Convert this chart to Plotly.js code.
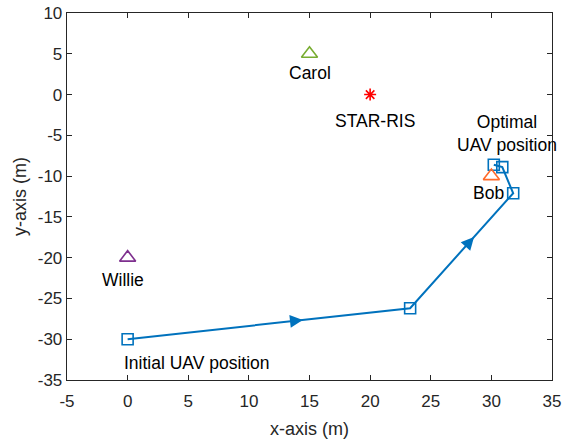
<!DOCTYPE html>
<html>
<head>
<meta charset="utf-8">
<script src="https://cdn.plot.ly/plotly-3.0.1.min.js"></script>
<style>html,body{margin:0;padding:0;background:#fff;}#chart{width:569px;height:443px;}</style>
</head>
<body>
<div id="chart"></div>
<script>
// UAV trajectory
const pathX = [0, 23.3, 31.8, 30.9, 30.2];
const pathY = [-30, -26.2, -12.1, -8.9, -8.6];
// Nodes
const nodeNames = ["Carol", "Bob", "Willie"];
const nodeX = [15, 30, 0];
const nodeY = [5, -10, -20];
const risX = [20];
const risY = [0];
// Tick labels
const xTicks = [-5, 0, 5, 10, 15, 20, 25, 30, 35];
const yTicks = [10, 5, 0, -5, -10, -15, -20, -25, -30, -35];

const blue = '#0072BD';
const nodeColors = ['#77AC30', '#FF6A2A', '#7E2F8E'];
const font = 'Liberation Sans, Arial, Helvetica, sans-serif';

const traces = [
  {x: pathX, y: pathY, mode: 'lines+markers', type: 'scatter',
   line: {color: blue, width: 2},
   marker: {symbol: 'square-open', size: 11, color: blue, line: {width: 1.6, color: blue}},
   hoverinfo: 'skip'},
  {x: risX, y: risY, mode: 'markers', type: 'scatter',
   marker: {symbol: 'asterisk-open', size: 10, color: '#FF0000', line: {width: 1.6, color: '#FF0000'}}},
  {x: nodeX, y: nodeY, mode: 'markers', type: 'scatter',
   marker: {symbol: 'triangle-up-open', size: 14, color: nodeColors, line: {width: 1.6, color: nodeColors}}}
];

const annotations = [];
// arrowheads along the first three segments
for (let i = 0; i < 3; i++) {
  const f = i === 2 ? 0.68 : 0.62;
  const dx = pathX[i+1] - pathX[i], dy = pathY[i+1] - pathY[i];
  const mx = pathX[i] + dx * f, my = pathY[i] + dy * f;
  const bx = mx - dx * 0.05, by = my - dy * 0.05;
  annotations.push({x: mx, y: my, ax: bx, ay: by, xref: 'x', yref: 'y', axref: 'x', ayref: 'y',
    showarrow: true, arrowhead: 2, arrowsize: 1.6, arrowwidth: 1.6, arrowcolor: blue, text: ''});
}
const labels = [
  {text: 'Carol', x: 15, y: 2.6},
  {text: 'STAR-RIS', x: 20.4, y: -3.2},
  {text: 'Optimal<br>UAV position', x: 31.3, y: -4.8},
  {text: 'Bob', x: 29.8, y: -12.1},
  {text: 'Willie', x: -0.4, y: -22.7},
  {text: 'Initial UAV position', x: 5.7, y: -32.9}
];
labels.forEach(l => annotations.push({text: l.text, x: l.x, y: l.y, xref: 'x', yref: 'y',
  showarrow: false, xanchor: 'center', yanchor: 'middle', font: {family: font, size: 17.5, color: '#000'}}));

const axisCommon = {
  showline: true, linecolor: '#262626', linewidth: 1.3, mirror: 'ticks',
  ticks: 'inside', ticklen: 5, tickcolor: '#262626', tickwidth: 1,
  showgrid: false, zeroline: false,
  tickfont: {family: font, size: 17, color: '#262626'}
};

const layout = {
  width: 569, height: 443,
  margin: {l: 67, r: 17, t: 13, b: 63},
  paper_bgcolor: '#fff', plot_bgcolor: '#fff',
  showlegend: false,
  xaxis: Object.assign({}, axisCommon, {range: [-5, 35], tickvals: xTicks, ticktext: xTicks.map(String),
    ticklabelstandoff: 5,
    title: {text: 'x-axis (m)', font: {family: font, size: 18, color: '#262626'}, standoff: 12}}),
  yaxis: Object.assign({}, axisCommon, {range: [-35, 10], tickvals: yTicks, ticktext: yTicks.map(String),
    title: {text: 'y-axis (m)', font: {family: font, size: 18, color: '#262626'}, standoff: 6}}),
  annotations: annotations
};

Plotly.newPlot('chart', traces, layout, {staticPlot: true});
</script>
</body>
</html>
